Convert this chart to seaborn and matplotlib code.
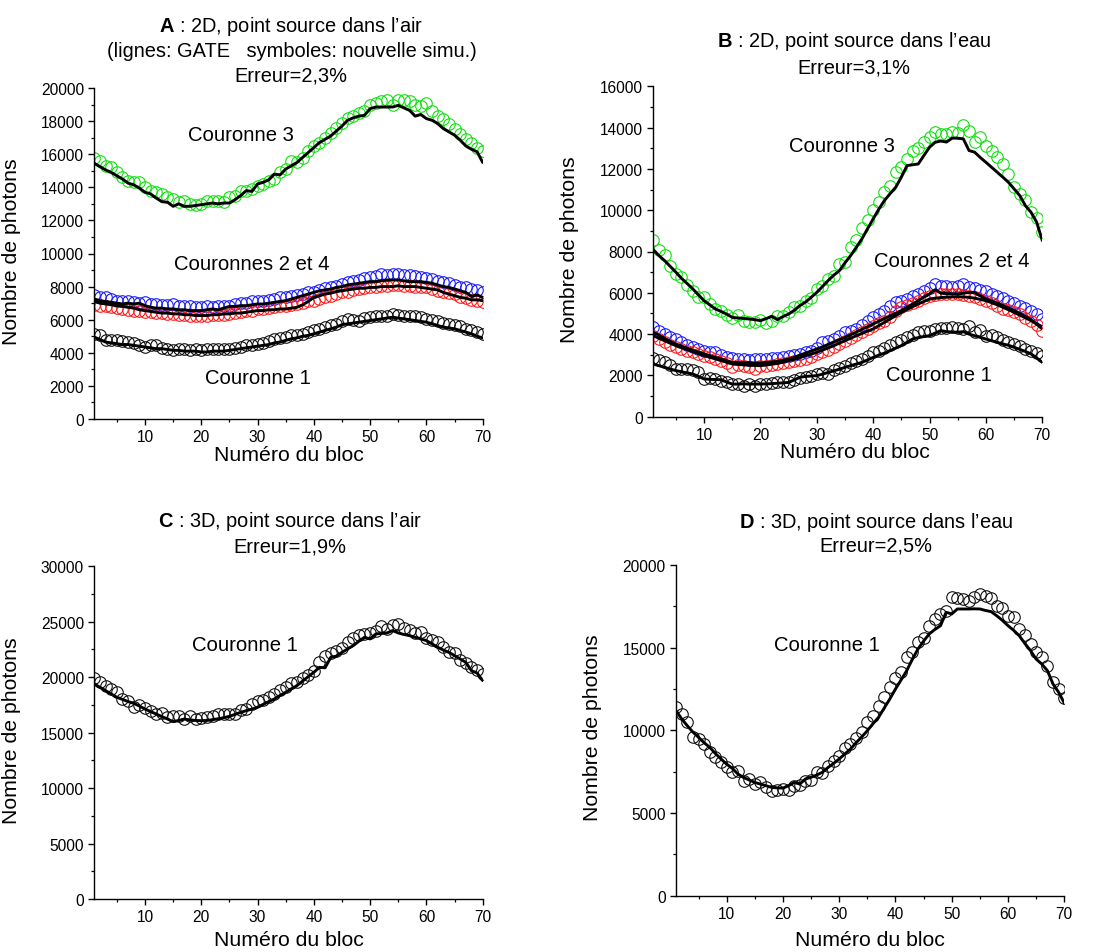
import numpy as np
import matplotlib
matplotlib.use("Agg")
import matplotlib.pyplot as plt
from matplotlib.ticker import MultipleLocator
import seaborn as sns

# ---------------------------------------------------------------- data
blocks = list(range(1, 71))

# Panel A : 2D, air
a_c3_gate = [15450, 15250, 15050, 14900, 14700, 14500, 14250, 14150, 13950, 13700,
             13600, 13350, 13130, 13100, 12850, 13000, 12850, 12850, 12900, 12950,
             13000, 13050, 13000, 13050, 13050, 13250, 13500, 13800, 13750, 14200,
             14300, 14450, 14800, 14750, 15100, 15300, 15500, 15800, 16100, 16400,
             16700, 16900, 17100, 17400, 17700, 18050, 18200, 18300, 18350, 18750,
             18850, 18850, 18850, 18850, 18950, 18800, 18650, 18300, 18400, 18150,
             18050, 17850, 17550, 17350, 17150, 16850, 16500, 16300, 16150, 15500]
a_c3_sim = [15800, 15600, 15300, 15200, 14900, 14600, 14400, 14300, 14300, 14000,
            13800, 13700, 13600, 13400, 13300, 13100, 13200, 13000, 12950, 13000,
            13200, 13200, 13200, 13100, 13400, 13500, 13800, 13800, 13900, 14100,
            14200, 14400, 14500, 14900, 15100, 15600, 15500, 15800, 16200, 16500,
            16700, 17000, 17300, 17600, 17900, 18200, 18300, 18500, 18600, 19000,
            19100, 19200, 19300, 19000, 19300, 19300, 19200, 19000, 18900, 19100,
            18600, 18300, 18100, 17800, 17500, 17200, 16900, 16700, 16400, 16200]
a_c2_gate = [7250, 7150, 7100, 7050, 7000, 6950, 7000, 6950, 7000, 6850,
             6750, 6700, 6700, 6650, 6650, 6600, 6600, 6550, 6550, 6550,
             6600, 6650, 6600, 6700, 6800, 6800, 6850, 6850, 6900, 6950,
             6950, 7000, 7050, 7100, 7150, 7250, 7350, 7450, 7550, 7650,
             7750, 7800, 7850, 7950, 8000, 8100, 8150, 8200, 8250, 8300,
             8300, 8350, 8400, 8400, 8400, 8350, 8300, 8300, 8300, 8250,
             8200, 8100, 8000, 7950, 7850, 7750, 7650, 7400, 7500, 7350]
a_c4_gate = [7100, 7000, 6950, 6900, 6850, 6800, 6750, 6700, 6600, 6550,
             6500, 6450, 6400, 6400, 6350, 6350, 6300, 6300, 6250, 6250,
             6250, 6300, 6300, 6350, 6350, 6400, 6400, 6450, 6500, 6550,
             6550, 6600, 6600, 6650, 6650, 6700, 6750, 6900, 7100, 7350,
             7450, 7550, 7600, 7700, 7750, 7800, 7850, 7900, 7900, 7950,
             7950, 8000, 8000, 8000, 8050, 8000, 8000, 8000, 7950, 7900,
             7850, 7800, 7650, 7550, 7450, 7350, 7300, 7200, 7200, 7150]
a_c2_sim = [7500, 7400, 7350, 7250, 7150, 7100, 7100, 7050, 7000, 7050,
            6950, 6950, 6900, 6900, 6950, 6850, 6800, 6800, 6750, 6750,
            6800, 6750, 6850, 6850, 6850, 6950, 7000, 7000, 7100, 7150,
            7150, 7200, 7250, 7350, 7400, 7450, 7500, 7550, 7650, 7700,
            7800, 7900, 8000, 8050, 8150, 8250, 8350, 8400, 8500, 8600,
            8650, 8750, 8700, 8750, 8750, 8700, 8700, 8650, 8600, 8500,
            8450, 8350, 8250, 8200, 8100, 8000, 7950, 7850, 7800, 7700]
a_c4_sim = [6900, 6850, 6800, 6750, 6700, 6650, 6600, 6550, 6500, 6450,
            6450, 6400, 6400, 6350, 6350, 6300, 6300, 6250, 6200, 6250,
            6250, 6300, 6300, 6300, 6350, 6400, 6450, 6500, 6550, 6650,
            6650, 6700, 6750, 6800, 6850, 6900, 6950, 7000, 7100, 7150,
            7250, 7350, 7450, 7550, 7650, 7700, 7800, 7850, 7900, 7950,
            8000, 8050, 8050, 8100, 8100, 8050, 8050, 8000, 8000, 7950,
            7850, 7750, 7650, 7600, 7550, 7400, 7300, 7200, 7100, 7050]
a_c1_gate = [4950, 4800, 4650, 4600, 4550, 4500, 4500, 4450, 4400, 4350,
             4300, 4250, 4250, 4200, 4150, 4150, 4100, 4100, 4100, 4050,
             4050, 4100, 4100, 4100, 4150, 4200, 4250, 4300, 4350, 4400,
             4450, 4500, 4600, 4650, 4750, 4850, 4900, 5000, 5050, 5150,
             5250, 5350, 5450, 5550, 5700, 5750, 5800, 5850, 5900, 5950,
             6000, 6050, 6100, 6150, 6100, 6050, 6000, 5950, 5900, 5850,
             5750, 5650, 5550, 5500, 5450, 5350, 5250, 5150, 5000, 4900]
a_c1_sim = [5150, 5050, 4750, 4800, 4800, 4700, 4650, 4600, 4500, 4350,
            4450, 4450, 4300, 4250, 4150, 4200, 4200, 4150, 4200, 4150,
            4200, 4200, 4250, 4200, 4250, 4300, 4350, 4450, 4450, 4550,
            4600, 4700, 4850, 4900, 4950, 5050, 5100, 5150, 5250, 5350,
            5450, 5550, 5650, 5750, 5900, 6050, 6000, 5950, 6100, 6150,
            6200, 6250, 6200, 6350, 6300, 6250, 6200, 6250, 6150, 6050,
            6000, 5900, 5800, 5750, 5650, 5600, 5450, 5350, 5250, 5150]

# Panel B : 2D, water
b_c3_gate = [8090, 7800, 7560, 7280, 7000, 6700, 6450, 6190, 5900, 5620,
             5420, 5220, 5100, 4970, 4810, 4780, 4760, 4730, 4700, 4650,
             4750, 4860, 4700, 4850, 4970, 5150, 5380, 5550, 5780, 6020,
             6300, 6590, 6850, 7070, 7450, 7800, 8200, 8610, 9100, 9580,
             10050, 10470, 10800, 11110, 11600, 12160, 12200, 12240, 12650, 13050,
             13290, 13350, 13300, 13490, 13490, 13450, 12890, 12810, 12550, 12320,
             12080, 11840, 11600, 11350, 11030, 10710, 10220, 9900, 9420, 8530]
b_c3_sim = [8580, 8090, 7830, 7320, 6910, 6750, 6380, 6100, 5780, 5780,
            5460, 5220, 5140, 4930, 4760, 4930, 4650, 4600, 4570, 4700,
            4540, 4650, 4890, 4900, 5050, 5300, 5350, 5620, 5750, 6190,
            6350, 6670, 6830, 7400, 7480, 8200, 8580, 9120, 9540, 10030,
            10380, 10900, 11190, 11840, 12080, 12480, 12890, 13000, 13290, 13530,
            13780, 13700, 13700, 13780, 13750, 14130, 13820, 13290, 13530, 13130,
            12890, 12560, 12240, 11760, 11110, 10790, 10470, 9900, 9630, 8930]
b_c2_gate = [4090, 3950, 3800, 3650, 3520, 3420, 3320, 3220, 3130, 3040,
             2960, 2880, 2800, 2720, 2630, 2620, 2610, 2620, 2600, 2600,
             2620, 2650, 2680, 2730, 2790, 2880, 2980, 3080, 3180, 3280,
             3380, 3500, 3620, 3730, 3840, 3970, 4100, 4230, 4360, 4490,
             4620, 4750, 4880, 5010, 5140, 5300, 5450, 5620, 5800, 5950,
             6150, 5980, 5960, 5950, 5940, 5980, 6020, 6020, 5850, 5700,
             5600, 5500, 5380, 5260, 5140, 5000, 4850, 4700, 4480, 4250]
b_c4_gate = [3920, 3800, 3680, 3560, 3440, 3340, 3250, 3150, 3050, 2960,
             2880, 2800, 2720, 2640, 2550, 2530, 2510, 2490, 2480, 2470,
             2500, 2540, 2580, 2640, 2710, 2780, 2860, 2950, 3030, 3120,
             3220, 3330, 3440, 3560, 3680, 3800, 3920, 4030, 4140, 4250,
             4410, 4570, 4730, 4890, 5050, 5190, 5330, 5460, 5580, 5700,
             5740, 5770, 5790, 5800, 5810, 5800, 5780, 5740, 5680, 5620,
             5520, 5420, 5300, 5180, 5050, 4920, 4790, 4650, 4500, 4330]
b_c2_sim = [4330, 4150, 4000, 3880, 3760, 3620, 3480, 3360, 3280, 3200,
            3150, 3120, 3000, 2900, 2830, 2800, 2780, 2760, 2770, 2790,
            2800, 2820, 2850, 2900, 2960, 3000, 3050, 3120, 3200, 3310,
            3600, 3650, 3760, 3900, 4090, 4150, 4250, 4450, 4650, 4810,
            4950, 5140, 5350, 5540, 5600, 5700, 5850, 5940, 6100, 6220,
            6430, 6350, 6350, 6300, 6310, 6430, 6300, 6220, 6150, 6100,
            5950, 5860, 5750, 5620, 5500, 5380, 5250, 5140, 4950, 4730]
b_c4_sim = [3920, 3760, 3600, 3480, 3360, 3280, 3200, 3120, 3040, 2960,
            2880, 2790, 2700, 2600, 2390, 2500, 2450, 2400, 2310, 2470,
            2450, 2500, 2550, 2580, 2630, 2680, 2740, 2790, 2900, 3040,
            3150, 3250, 3360, 3520, 3680, 3800, 3950, 4090, 4250, 4410,
            4550, 4650, 4850, 5100, 5300, 5400, 5500, 5620, 5750, 5860,
            5900, 5940, 5950, 5940, 5940, 5900, 5850, 5780, 5700, 5620,
            5500, 5350, 5220, 5150, 5050, 4950, 4800, 4650, 4450, 4170]
b_c1_gate = [2550, 2470, 2390, 2310, 2230, 2180, 2120, 2070, 1950, 1830,
             1810, 1800, 1790, 1680, 1580, 1580, 1590, 1580, 1580, 1580,
             1590, 1600, 1620, 1640, 1660, 1780, 1910, 1950, 1970, 1990,
             2060, 2140, 2220, 2300, 2390, 2470, 2550, 2630, 2750, 2870,
             2980, 3080, 3200, 3320, 3440, 3600, 3760, 3830, 3880, 3920,
             4050, 4170, 4120, 4100, 4090, 4120, 4000, 3920, 3840, 3760,
             3680, 3600, 3520, 3460, 3360, 3260, 3160, 3040, 2850, 2630]
b_c1_sim = [2830, 2750, 2660, 2500, 2310, 2330, 2300, 2250, 2150, 1830,
            1850, 1840, 1750, 1680, 1580, 1600, 1500, 1580, 1500, 1580,
            1600, 1620, 1660, 1680, 1700, 1760, 1860, 1900, 1950, 2070,
            2100, 2080, 2280, 2350, 2470, 2600, 2700, 2790, 2950, 3120,
            3200, 3310, 3450, 3600, 3700, 3840, 3950, 4120, 4150, 4170,
            4250, 4280, 4300, 4330, 4300, 4250, 4410, 4120, 4180, 3920,
            3950, 3840, 3700, 3600, 3500, 3440, 3300, 3200, 3080, 2960]

# Panel C : 3D, air
c_c1_gate = [19390, 19090, 18790, 18490, 18190, 18000, 17800, 17650, 17400, 17130,
             16900, 16680, 16450, 16230, 15990, 16100, 16230, 16150, 16100, 16080,
             16100, 16170, 16250, 16350, 16470, 16650, 16830, 16980, 17130, 17280,
             17550, 17800, 18040, 18350, 18640, 18950, 19240, 19650, 20050, 20440,
             20890, 20850, 21790, 21900, 22240, 22550, 22850, 23240, 23600, 23450,
             23900, 23950, 23990, 24200, 23990, 23850, 23750, 23600, 23450, 23300,
             23000, 22700, 22450, 22240, 21950, 21640, 21340, 20590, 20380, 19690]
c_c1_sim = [19900, 19600, 19240, 18940, 18640, 18040, 17890, 17280, 17490, 17190,
            16980, 16680, 16770, 16380, 16530, 16470, 16230, 16470, 16230, 16290,
            16380, 16470, 16680, 16680, 16700, 16720, 17070, 17100, 17580, 17890,
            17900, 18190, 18490, 18880, 19090, 19480, 19600, 19900, 20200, 20590,
            21340, 21940, 22180, 22390, 22610, 23150, 23510, 23810, 23900, 23990,
            24200, 24650, 24350, 24740, 24800, 24410, 24290, 23990, 24050, 23510,
            23360, 23210, 22700, 22300, 22180, 21580, 21280, 20890, 20680, 20290]

# Panel D : 3D, water
d_c1_gate = [11190, 10700, 10280, 9900, 9580, 9250, 8970, 8600, 8270, 7960,
             7700, 7360, 7150, 7000, 6850, 6750, 6650, 6550, 6520, 6510,
             6650, 6850, 6750, 7060, 7160, 7300, 7460, 7750, 8000, 8270,
             8570, 8870, 9250, 9600, 9980, 10400, 10790, 11350, 11900, 12500,
             13050, 13610, 14300, 14920, 15400, 15830, 16100, 16330, 17140, 17040,
             17340, 17340, 17340, 17350, 17340, 17250, 17180, 16930, 16650, 16330,
             16050, 15720, 15250, 14820, 14310, 14010, 13610, 12800, 12300, 11650]
d_c1_sim = [11430, 10990, 10480, 9580, 9480, 9170, 8670, 8370, 8060, 7760,
            7460, 7560, 6960, 7060, 6750, 6890, 6550, 6350, 6410, 6450,
            6410, 6610, 6690, 6960, 6980, 7460, 7440, 7820, 8160, 8430,
            8910, 9170, 9520, 9920, 10480, 10890, 11490, 12000, 12600, 13140,
            13510, 14410, 14720, 15360, 15560, 16330, 16730, 17040, 17240, 18040,
            17980, 17940, 17840, 18040, 18240, 18140, 17980, 17540, 17380, 16930,
            16830, 16130, 15760, 15220, 14720, 14410, 13910, 12940, 12500, 11930]

# ---------------------------------------------------------------- style
sns.set_theme(style="ticks")
plt.rcParams["font.family"] = ["Liberation Sans", "DejaVu Sans"]
plt.rcParams["mathtext.fontset"] = "custom"
plt.rcParams["mathtext.rm"] = "Liberation Sans"
plt.rcParams["mathtext.bf"] = "Liberation Sans:bold"
plt.rcParams["text.color"] = "black"
plt.rcParams["axes.labelcolor"] = "black"
plt.rcParams["axes.edgecolor"] = "black"
plt.rcParams["xtick.color"] = "black"
plt.rcParams["ytick.color"] = "black"
plt.rcParams["axes.linewidth"] = 1.0
plt.rcParams["xtick.major.width"] = 1.0
plt.rcParams["ytick.major.width"] = 1.0
plt.rcParams["xtick.minor.width"] = 0.9
plt.rcParams["ytick.minor.width"] = 0.9
plt.rcParams["xtick.major.size"] = 4
plt.rcParams["ytick.major.size"] = 4
plt.rcParams["xtick.minor.size"] = 2.5
plt.rcParams["ytick.minor.size"] = 2.5

GREEN = "#10e010"
BLUE = "#1c1cff"
RED = "#ff1c1c"
DARK = "#111111"

W, H = 1096, 953
fig = plt.figure(figsize=(W / 100, H / 100), dpi=100)


def add_axes(left, top, right, bottom):
    return fig.add_axes([left / W, 1 - bottom / H, (right - left) / W, (bottom - top) / H])


def circles(ax, vals, color):
    sns.lineplot(x=blocks, y=vals, ax=ax, estimator=None, sort=False,
                 marker="o", linestyle="", markersize=8.3,
                 markerfacecolor="none", markeredgecolor=color,
                 markeredgewidth=0.8, color=color)


def gate(ax, vals):
    sns.lineplot(x=blocks, y=vals, ax=ax, estimator=None, sort=False,
                 color="black", linewidth=2.1)


def dress(ax, ymax, major, minor, xlab_y, xlab_x=0.5, ylab_x=-0.19, ylab_y=0.51):
    ax.set_xlim(1, 70)
    ax.set_ylim(0, ymax)
    ax.xaxis.set_major_locator(MultipleLocator(10))
    ax.xaxis.set_minor_locator(MultipleLocator(5))
    ax.yaxis.set_major_locator(MultipleLocator(major))
    ax.yaxis.set_minor_locator(MultipleLocator(minor))
    ax.tick_params(axis="both", which="both", direction="out", colors="black",
                   labelsize=11.2)
    sns.despine(ax=ax)
    ax.set_xlabel("Numéro du bloc", fontsize=15.3)
    ax.set_ylabel("Nombre de photons", fontsize=15.3)
    ax.xaxis.set_label_coords(xlab_x, xlab_y)
    ax.yaxis.set_label_coords(ylab_x, ylab_y)


def title_line(xpx, ypx, text):
    fig.text(xpx / W, 1 - ypx / H, text, ha="center", va="center", fontsize=14.4)


ANN = 14.6

# ---- A
axA = add_axes(94.3, 89, 482.7, 420)
circles(axA, a_c3_sim, GREEN)
circles(axA, a_c2_sim, BLUE)
circles(axA, a_c4_sim, RED)
circles(axA, a_c1_sim, DARK)
for v in (a_c3_gate, a_c2_gate, a_c4_gate, a_c1_gate):
    gate(axA, v)
dress(axA, 20000, 2000, 1000, xlab_y=-0.078)
axA.text(27, 17200, "Couronne 3", ha="center", va="center", fontsize=ANN)
axA.text(29, 9380, "Couronnes 2 et 4", ha="center", va="center", fontsize=ANN)
axA.text(30, 2480, "Couronne 1", ha="center", va="center", fontsize=ANN)
title_line(290.7, 26, r"$\mathbf{A}$ : 2D, point source dans l’air")
title_line(291.5, 51.5, "(lignes: GATE   symboles: nouvelle simu.)")
title_line(291, 76.5, "Erreur=2,3%")

# ---- B
axB = add_axes(653.3, 87.3, 1042.3, 417.7)
circles(axB, b_c3_sim, GREEN)
circles(axB, b_c2_sim, BLUE)
circles(axB, b_c4_sim, RED)
circles(axB, b_c1_sim, DARK)
for v in (b_c3_gate, b_c2_gate, b_c4_gate, b_c1_gate):
    gate(axB, v)
dress(axB, 16000, 2000, 1000, xlab_y=-0.077, xlab_x=0.518)
axB.text(34.4, 13120, "Couronne 3", ha="center", va="center", fontsize=ANN)
axB.text(53.9, 7560, "Couronnes 2 et 4", ha="center", va="center", fontsize=ANN)
axB.text(51.6, 2020, "Couronne 1", ha="center", va="center", fontsize=ANN)
title_line(854.5, 41.7, r"$\mathbf{B}$ : 2D, point source dans l’eau")
title_line(854, 68.3, "Erreur=3,1%")

# ---- C
axC = add_axes(94.3, 567.3, 482.7, 900)
circles(axC, c_c1_sim, DARK)
gate(axC, c_c1_gate)
dress(axC, 30000, 5000, 2500, xlab_y=-0.093)
axC.text(27.8, 22930, "Couronne 1", ha="center", va="center", fontsize=ANN)
title_line(289.7, 521.7, r"$\mathbf{C}$ : 3D, point source dans l’air")
title_line(289.5, 546.7, "Erreur=1,9%")

# ---- D
axD = add_axes(676, 566, 1064.3, 896.7)
circles(axD, d_c1_sim, DARK)
gate(axD, d_c1_gate)
dress(axD, 20000, 5000, 2500, xlab_y=-0.103)
axD.text(27.8, 15180, "Couronne 1", ha="center", va="center", fontsize=ANN)
title_line(876.3, 522.7, r"$\mathbf{D}$ : 3D, point source dans l’eau")
title_line(876.3, 546, "Erreur=2,5%")

fig.savefig("out.png", dpi=100, facecolor="white")
